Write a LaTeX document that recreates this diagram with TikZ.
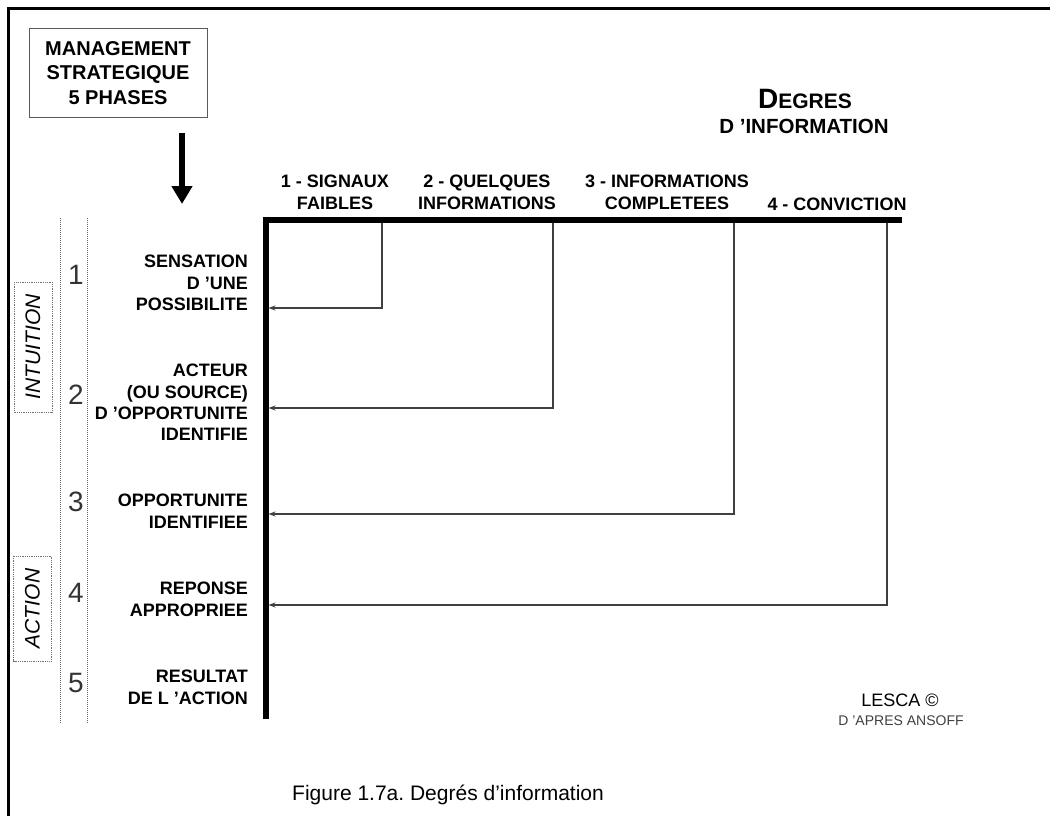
\documentclass[tikz,border=0pt]{standalone}
\usepackage{fontspec}
\setmainfont{Liberation Sans}
\usetikzlibrary{arrows.meta}
\frenchspacing
\begin{document}
\begin{tikzpicture}[x=1pt,y=-1pt,
  lbl/.style={font=\bfseries\fontsize{18}{21.3}\selectfont, align=right, anchor=north east, inner sep=0pt},
  hdr/.style={font=\bfseries\fontsize{18}{22}\selectfont, align=center, anchor=north, inner sep=0pt},
  num/.style={font=\fontsize{28}{28}\selectfont, text=black!80, inner sep=0pt},
  phase/.style={draw=black!55, densely dotted, line width=0.8pt, rotate=90, minimum height=38pt, inner sep=0pt, font=\itshape\fontsize{21}{21}\selectfont},
  guide/.style={draw=black!60, line width=0.8pt, dash pattern=on 1pt off 1pt},
  conn/.style={draw=black!75, line width=1.2pt, -{Stealth[length=7pt,width=5pt]}},
  axis/.style={draw=black, line width=6pt, line join=miter},
]
\useasboundingbox (0,0) rectangle (1050,816);
\fill[white] (0,0) rectangle (1050,816);
% frame
\coordinate (fb) at (8,816);
\coordinate (fc) at (8,9);
\coordinate (fr) at (1050,9);
\draw[line width=3pt] (fb) -- (fc) -- (fr);

% management box
\node[draw=black!65, line width=1pt, minimum width=178pt, minimum height=88pt, inner sep=0pt,
      font=\bfseries\fontsize{20}{24.5}\selectfont, align=center] (ms) at (118,73)
      {MANAGEMENT\\STRATEGIQUE\\5 PHASES};
\coordinate (aS) at (182,133);
\coordinate (aE) at (182,204);
\draw[line width=5.5pt, -{Triangle[width=20pt,length=18pt]}] (aS) -- (aE);

% guide dotted lines
\coordinate (g1t) at (60,218); \coordinate (g1b) at (60,724);
\coordinate (g2t) at (87,218); \coordinate (g2b) at (87,724);
\draw[guide] (g1t) -- (g1b);
\draw[guide] (g2t) -- (g2b);

% phase boxes
\node[phase, minimum width=130pt] (intu) at (33,347) {INTUITION};
\node[phase, minimum width=105pt] (act) at (32.5,608.5) {ACTION};

% numbers
\node[num] (n1) at (76,275) {1};
\node[num] (n2) at (76,395) {2};
\node[num] (n3) at (76,502) {3};
\node[num] (n4) at (76,593) {4};
\node[num] (n5) at (76,683) {5};

% labels
\node[lbl] (l1) at (248,255.1) {SENSATION\\D ’UNE\\POSSIBILITE};
\node[lbl] (l2) at (248,364.1) {ACTEUR\\(OU SOURCE)\\D ’OPPORTUNITE\\IDENTIFIE};
\node[lbl] (l3) at (248,494.1) {OPPORTUNITE\\IDENTIFIEE};
\node[lbl] (l4) at (248,582.1) {REPONSE\\APPROPRIEE};
\node[lbl] (l5) at (248,670.1) {RESULTAT\\DE L ’ACTION};

% axes
\coordinate (axB) at (265.5,719);
\coordinate (axO) at (265.5,220);
\coordinate (axR) at (902,220);
\draw[axis] (axB) -- (axO) -- (axR);

% headers
\node[hdr] (h1) at (335,175.1) {1 - SIGNAUX\\FAIBLES};
\node[hdr] (h2) at (487,175.1) {2 - QUELQUES\\INFORMATIONS};
\node[hdr] (h3) at (667,175.1) {3 - INFORMATIONS\\COMPLETEES};
\node[font=\bfseries\fontsize{18}{18}\selectfont, anchor=base, inner sep=0pt] (h4) at (837,210) {4 - CONVICTION};

% title
\node[font=\bfseries, anchor=base, inner sep=0pt] (deg) at (805,108)
  {{\fontsize{28}{28}\selectfont D}{\fontsize{21}{21}\selectfont EGRES}};
\node[font=\bfseries\fontsize{20.5}{20.5}\selectfont, anchor=base, inner sep=0pt] (dinf) at (804,133) {D ’INFORMATION};

% connectors
\coordinate (c1) at (382,223); \coordinate (t1) at (268.5,308);
\coordinate (c2) at (553,223); \coordinate (t2) at (268.5,408);
\coordinate (c3) at (734,223); \coordinate (t3) at (268.5,514);
\coordinate (c4) at (887,223); \coordinate (t4) at (268.5,605);
\draw[conn] (c1) |- (t1);
\draw[conn] (c2) |- (t2);
\draw[conn] (c3) |- (t3);
\draw[conn] (c4) |- (t4);

% credits
\node[font=\fontsize{18}{18}\selectfont, anchor=base, inner sep=0pt] (lesca) at (900,706) {LESCA ©};
\node[font=\fontsize{14}{14}\selectfont, text=black!75, anchor=base, inner sep=0pt] (ans) at (901,725) {D ’APRES ANSOFF};

% caption
\node[font=\fontsize{21}{21}\selectfont, anchor=base west, inner sep=0pt] (cap) at (292,800) {Figure 1.7a. Degrés d’information};
\end{tikzpicture}
\end{document}
